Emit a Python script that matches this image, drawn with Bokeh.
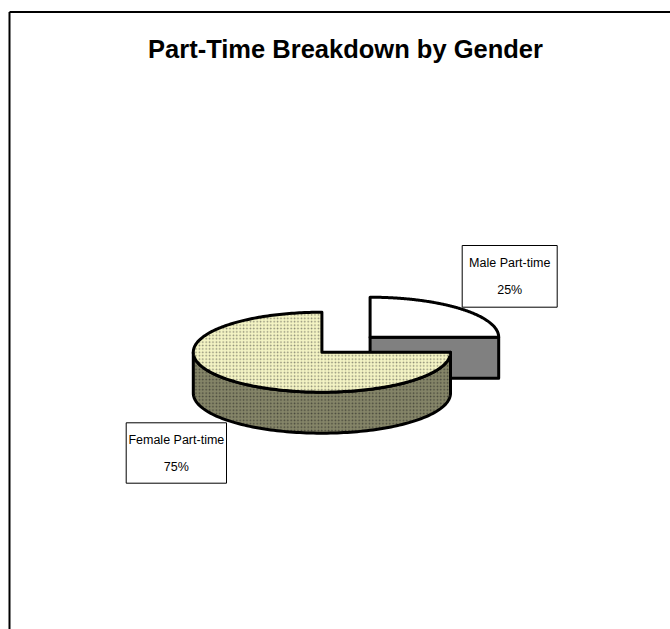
import numpy as np
from bokeh.plotting import figure
from bokeh.models import Range1d
from bokeh.embed import file_html
from bokeh.resources import INLINE
from bokeh.core.properties import value

# ---- data ----
title = "Part-Time Breakdown by Gender"
categories = ["Male Part-time", "Female Part-time"]
values = [25, 75]

# ---- styles ----
top_colors = ["#FFFFFF", "#F4F4C4"]
side_colors = ["#858568", "#858568"]
side_colors[0] = "#808080"
top_hatch = [None, "dot"]
side_hatch = [None, "dot"]
top_hatch_colors = ["#808080", "#8A8A74"]
side_hatch_colors = ["#808080", "#45453A"]
explode = [0.53, 0.0]

W, H = 670, 629
cx, cy = 321.4, 351.7
rx, ry, depth = 128.6, 40.0, 41.0

label_boxes = [  # left, right, top, bottom (pixel space of the figure)
    (461.7, 556.7, 245.0, 306.7),
    (125.7, 226.0, 422.3, 482.7),
]

p = figure(width=W, height=H, output_backend="svg", toolbar_location=None,
           x_range=Range1d(0, W), y_range=Range1d(H, 0), min_border=0)
p.axis.visible = False
p.grid.visible = False
p.outline_line_color = None
p.background_fill_color = "white"
p.border_fill_color = "white"

# chart frame (left and top edges visible)
p.line([9, 9], [11.5, H + 5], line_color="black", line_width=2)
p.line([9, W + 5], [11.5, 11.5], line_color="black", line_width=2)

# title
p.text(x=[345], y=[48.5], text=[title], text_font=value("Liberation Sans"),
       text_font_style="bold", text_font_size="25.5px", text_align="center",
       text_baseline="middle", text_color="black")

total = float(sum(values))
start = 90.0
slices = []
for i, v in enumerate(values):
    a0 = start
    a1 = start - v / total * 360.0
    start = a1
    mid = np.deg2rad((a0 + a1) / 2.0)
    ox = explode[i] * rx * np.cos(mid)
    oy = -explode[i] * ry * np.sin(mid)
    slices.append((a0, a1, cx + ox, cy + oy))


def pt(scx, scy, ang_deg, dz=0.0):
    a = np.deg2rad(ang_deg)
    return scx + rx * np.cos(a), scy - ry * np.sin(a) + dz


line_kw = dict(line_color="black", line_width=3, line_join="round")
hatch_kw = dict(hatch_scale=3.4, hatch_weight=1.6)

for i, (a0, a1, scx, scy) in enumerate(slices):
    # radial cut faces
    faces = []
    if np.cos(np.deg2rad(a1)) > 1e-6:
        faces.append(a1)
    if np.cos(np.deg2rad(a0)) < -1e-6:
        faces.append(a0)
    for fa in faces:
        ex, ey = pt(scx, scy, fa)
        xs = [scx, ex, ex, scx]
        ys = [scy, ey, ey + depth, scy + depth]
        kw = dict(fill_color=side_colors[i], **line_kw)
        if side_hatch[i]:
            kw.update(hatch_pattern=side_hatch[i], hatch_color=side_hatch_colors[i], **hatch_kw)
        p.patch(xs, ys, **kw)
    # outer arc side (front half only)
    lo, hi = a1, a0
    segs = []
    for k in range(-2, 2):
        f_lo, f_hi = -180 + 360 * k, 0 + 360 * k
        s_lo, s_hi = max(lo, f_lo), min(hi, f_hi)
        if s_hi > s_lo + 1e-6:
            segs.append((s_lo, s_hi))
    for s_lo, s_hi in segs:
        angs = np.linspace(s_lo, s_hi, 120)
        tx, ty = pt(scx, scy, angs)
        bx, by = pt(scx, scy, angs[::-1], depth)
        kw = dict(fill_color=side_colors[i], **line_kw)
        if side_hatch[i]:
            kw.update(hatch_pattern=side_hatch[i], hatch_color=side_hatch_colors[i], **hatch_kw)
        p.patch(list(tx) + list(bx), list(ty) + list(by), **kw)
    # top face
    angs = np.linspace(a0, a1, 240)
    ax, ay = pt(scx, scy, angs)
    xs = [scx] + list(ax) + [scx]
    ys = [scy] + list(ay) + [scy]
    kw = dict(fill_color=top_colors[i], **line_kw)
    if top_hatch[i]:
        kw.update(hatch_pattern=top_hatch[i], hatch_color=top_hatch_colors[i], **hatch_kw)
    p.patch(xs, ys, **kw)

# data labels
for i, (l, r, t, b) in enumerate(label_boxes):
    p.quad(left=[l], right=[r], top=[t], bottom=[b], fill_color="white",
           line_color="black", line_width=1)
    pct = "%d%%" % round(values[i] / total * 100)
    xm = (l + r) / 2.0
    p.text(x=[xm], y=[t + 17.5], text=[categories[i]], text_font=value("Liberation Sans"),
           text_font_size="12.5px", text_align="center", text_baseline="middle",
           text_color="black")
    p.text(x=[xm], y=[t + 44], text=[pct], text_font=value("Liberation Sans"),
           text_font_size="12.5px", text_align="center", text_baseline="middle",
           text_color="black")

open("out.html", "w").write(file_html(p, INLINE))
